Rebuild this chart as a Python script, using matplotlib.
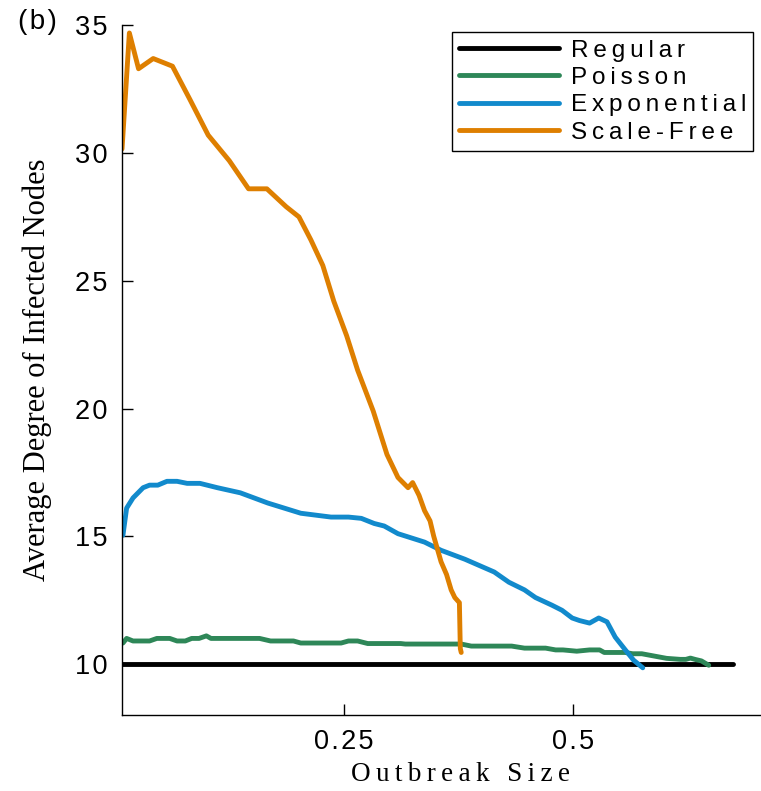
import matplotlib.pyplot as plt
from matplotlib.ticker import FixedLocator, FuncFormatter

# outbreak size vs average degree of infected nodes, one curve per degree distribution
regular_x = [0.008, 0.675]
regular_y = [10.0, 10.0]

poisson_x = [0.009, 0.013, 0.020, 0.038, 0.046, 0.060, 0.068, 0.077, 0.084, 0.092, 0.100,
             0.105, 0.158, 0.170, 0.195, 0.203, 0.247, 0.255, 0.265, 0.276, 0.312, 0.317,
             0.334, 0.378, 0.389, 0.389, 0.433, 0.447, 0.470, 0.481, 0.489, 0.504, 0.518,
             0.529, 0.534, 0.557, 0.565, 0.575, 0.602, 0.617, 0.623, 0.628, 0.633, 0.640, 0.648]
poisson_y = [10.82, 11.0, 10.9, 10.9, 11.0, 11.0, 10.9, 10.9, 11.0, 11.0, 11.1,
             11.0, 11.0, 10.9, 10.9, 10.82, 10.82, 10.9, 10.9, 10.8, 10.8, 10.78,
             10.78, 10.78, 10.7, 10.7, 10.7, 10.62, 10.62, 10.55, 10.55, 10.5, 10.55,
             10.55, 10.45, 10.45, 10.4, 10.4, 10.22, 10.18, 10.18, 10.23, 10.18, 10.12, 9.95]

expo_x = [0.009, 0.013, 0.020, 0.031, 0.038, 0.047, 0.057, 0.068, 0.079, 0.093, 0.112,
          0.137, 0.167, 0.203, 0.236, 0.255, 0.269, 0.283, 0.294, 0.309, 0.338, 0.356,
          0.382, 0.414, 0.430, 0.447, 0.459, 0.477, 0.488, 0.499, 0.507, 0.518, 0.528,
          0.537, 0.546, 0.557, 0.566, 0.576]
expo_y = [15.04, 16.1, 16.5, 16.9, 17.0, 17.0, 17.15, 17.15, 17.07, 17.07, 16.9,
          16.7, 16.3, 15.9, 15.75, 15.75, 15.7, 15.5, 15.4, 15.1, 14.77, 14.45,
          14.1, 13.6, 13.2, 12.9, 12.6, 12.3, 12.1, 11.8, 11.7, 11.6, 11.8,
          11.65, 11.05, 10.55, 10.15, 9.85]

sf_x = [0.008, 0.016, 0.026, 0.042, 0.063, 0.082, 0.102, 0.125, 0.146, 0.166, 0.187,
        0.201, 0.214, 0.227, 0.239, 0.253, 0.265, 0.282, 0.297, 0.309, 0.320, 0.325,
        0.332, 0.338, 0.344, 0.348, 0.356, 0.362, 0.367, 0.371, 0.376, 0.377, 0.378]
sf_y = [30.16, 34.7, 33.3, 33.7, 33.4, 32.1, 30.7, 29.7, 28.6, 28.6, 27.9,
        27.5, 26.6, 25.6, 24.2, 22.85, 21.5, 19.9, 18.2, 17.3, 16.9, 17.1,
        16.6, 16.0, 15.6, 15.0, 14.0, 13.5, 12.9, 12.6, 12.4, 10.6, 10.45]

x_ticks = [0.25, 0.5]
y_ticks = [10, 15, 20, 25, 30, 35]

SANS = ['Liberation Sans', 'DejaVu Sans']
SERIF = ['Liberation Serif', 'DejaVu Serif']


def spaced(text, gap='\u200a'):
    # wide tracking, the way the labels are set in the figure
    return gap.join(text)


fig = plt.figure(figsize=(7.61, 7.91), dpi=100)
ax = fig.add_axes([0.160, 0.096, 0.840, 0.872])

lw = 3.5
ax.plot(regular_x, regular_y, color='black', lw=lw, label=spaced('Regular', '\u2009'), solid_capstyle='round')
ax.plot(poisson_x, poisson_y, color='#2e8758', lw=lw, label=spaced('Poisson', '\u2009'), solid_capstyle='round')
ax.plot(expo_x, expo_y, color='#128acc', lw=lw, label=spaced('Exponential', '\u2009'), solid_capstyle='round')
ax.plot(sf_x, sf_y, color='#de7f00', lw=lw, label=spaced('Scale-Free', '\u2009'), solid_capstyle='round')

ax.set_xlim(0.0077, 0.705)
ax.set_ylim(8, 35)

for side in ('top', 'right'):
    ax.spines[side].set_visible(False)
ax.spines['left'].set_linewidth(1.0)
ax.spines['bottom'].set_linewidth(1.0)

ax.xaxis.set_major_locator(FixedLocator(x_ticks))
ax.yaxis.set_major_locator(FixedLocator(y_ticks))
ax.xaxis.set_major_formatter(FuncFormatter(lambda v, p: spaced('%g' % v)))
ax.yaxis.set_major_formatter(FuncFormatter(lambda v, p: spaced('%g' % v)))
ax.tick_params(direction='in', length=8, width=1.0, labelsize=19.5, pad=10)
for lab in ax.get_xticklabels() + ax.get_yticklabels():
    lab.set_family(SANS)

ax.set_xlabel(spaced('Outbreak Size', '\u2009'), family=SERIF, fontsize=19.5)
ax.xaxis.set_label_coords(0.53, -0.068)
ax.set_ylabel('Average Degree of Infected Nodes', family=SERIF, fontsize=22, labelpad=17)

leg = ax.legend(loc='upper right', bbox_to_anchor=(0.988, 0.99),
                prop={'family': SANS, 'size': 17.5},
                handlelength=4.1, handletextpad=0.5, labelspacing=0.22,
                borderpad=0.3, borderaxespad=0.0, fancybox=False, framealpha=1)
leg.get_frame().set_edgecolor('black')
leg.get_frame().set_linewidth(1.0)

fig.text(0.024, 0.963, spaced('(b)'), family=SANS, fontsize=20)

fig.savefig('out.png', dpi=100)
